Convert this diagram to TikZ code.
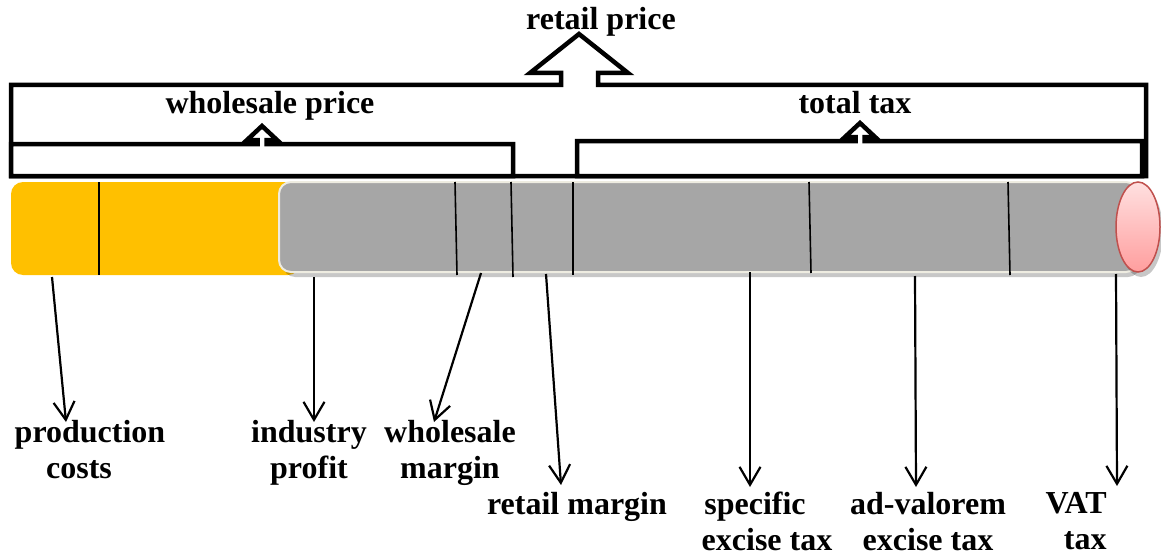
\documentclass[tikz,border=0pt]{standalone}
\usepackage{fontspec}
\setmainfont{Liberation Serif}
\usepackage{xcolor}
\usepackage{tikz}
\usetikzlibrary{arrows.meta, calc}
\definecolor{costyellow}{RGB}{255, 192, 0}
\definecolor{bargray}{RGB}{166, 166, 166}
\definecolor{barrim}{RGB}{238, 236, 225}
\definecolor{capred}{RGB}{192, 80, 77}
\definecolor{captop}{RGB}{255, 224, 224}
\definecolor{capbot}{RGB}{255, 158, 158}
\tikzset{
  bracket/.style={draw=black, line width=2.25pt, fill=white},
  divider/.style={draw=black, line width=0.8pt},
  pointer/.style={draw=black, line width=1.1pt,
    -{Straight Barb[length=9pt, width=10.5pt]}},
  lbl/.style={font=\fontsize{16}{18}\selectfont\bfseries, inner sep=0pt},
  dropshadow/.style={fill=black, opacity=0.22},
}

\begin{document}
\begin{tikzpicture}[x=0.5pt, y=-0.5pt]
\useasboundingbox (0,0) rectangle (1161,556);

% price bar
\fill[costyellow, rounded corners=6pt] (11,182) rectangle (300,275);
\fill[dropshadow, rounded corners=6pt] (283,187) rectangle (1140,277);
\path[fill=bargray, draw=barrim, line width=1pt, rounded corners=6pt] (279,182) rectangle (1138,272);
\fill[dropshadow] (1141,232) ellipse [x radius=11pt, y radius=22.5pt];
\shadedraw[top color=captop, bottom color=capbot, draw=capred, line width=0.75pt]
  (1138,227) ellipse [x radius=11pt, y radius=22.5pt];

\draw[divider] (99,182) -- (99,275);
\draw[divider] (455,182) -- (457,275);
\draw[divider] (511,182) -- (513,277);
\draw[divider] (573,182) -- (573,275);
\draw[divider] (809,182) -- (811,273);
\draw[divider] (1008,182) -- (1010,275);

% brackets
\path[bracket] (11,176) -- (11,85) -- (561,85) -- (561,73) -- (530,73) -- (579,34)
  -- (628,73) -- (598,73) -- (598,85) -- (1146,85) -- (1146,176) -- cycle;
\path[bracket] (11,176) -- (11,144) -- (257.5,144) -- (257.5,140) -- (247,140) -- (262,126)
  -- (277,140) -- (266.5,140) -- (266.5,144) -- (513,144) -- (513,176) -- cycle;
\path[bracket] (577,176) -- (577,141) -- (855.5,141) -- (855.5,137) -- (845,137) -- (860,123)
  -- (875,137) -- (864.5,137) -- (864.5,141) -- (1142,141) -- (1142,176) -- cycle;

\node[lbl, anchor=base] (retail) at (601,30) {retail price};
\node[lbl, anchor=base] (wholesale) at (270,113) {wholesale price};
\node[lbl, anchor=base] (totaltax) at (855,113) {total tax};

% components
\node[lbl, anchor=north, align=center] (prodcost) at (90,420) {production\\costs\hspace*{11pt}};
\node[lbl, anchor=north, align=center] (indprofit) at (309,420) {industry\\profit};
\node[lbl, anchor=north, align=center] (whmargin) at (450,420) {wholesale\\margin};
\node[lbl, anchor=north, align=center] (rtmargin) at (577,492) {retail margin};
\node[lbl, anchor=north, align=center] (specific) at (767,492) {specific\hspace*{12pt}\\excise tax};
\node[lbl, anchor=north, align=center] (advalorem) at (928,492) {ad-valorem\\excise tax};
\node[lbl, anchor=north east, align=right] (vat) at (1107,492) {VAT\\tax};

\coordinate (prodcost from) at (52,277);
\coordinate (prodcost to) at (66,422);
\coordinate (indprofit from) at (314,277);
\coordinate (indprofit to) at (314,422);
\coordinate (whmargin from) at (481,273);
\coordinate (whmargin to) at (434,422);
\coordinate (rtmargin from) at (546,274);
\coordinate (rtmargin to) at (561,485);
\coordinate (specific from) at (750,272);
\coordinate (specific to) at (750,487);
\coordinate (advalorem from) at (915,276);
\coordinate (advalorem to) at (916,487);
\coordinate (vat from) at (1116,274);
\coordinate (vat to) at (1117,486);

\draw[pointer] (prodcost from) -- (prodcost to);
\draw[pointer] (indprofit from) -- (indprofit to);
\draw[pointer] (whmargin from) -- (whmargin to);
\draw[pointer] (rtmargin from) -- (rtmargin to);
\draw[pointer] (specific from) -- (specific to);
\draw[pointer] (advalorem from) -- (advalorem to);
\draw[pointer] (vat from) -- (vat to);

\end{tikzpicture}
\end{document}
